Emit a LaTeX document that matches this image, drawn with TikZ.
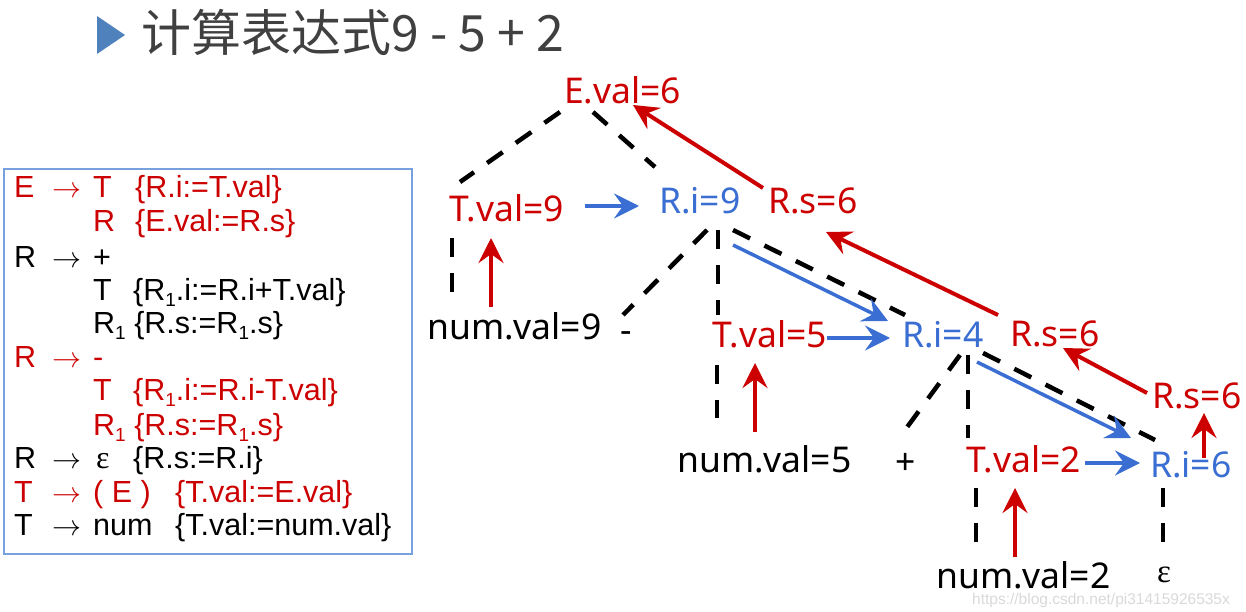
\documentclass[tikz,border=0pt]{standalone}
\usepackage{fontspec}
\setmainfont{Liberation Sans}
\newfontfamily\treefont{Noto Sans}
\newfontfamily\cjkfont{Noto Sans CJK SC}
\newfontfamily\epsfont{Liberation Serif}
\usetikzlibrary{arrows.meta}
\definecolor{myred}{RGB}{204,0,0}
\definecolor{myblue}{RGB}{58,110,210}
\definecolor{boxblue}{RGB}{120,160,220}
\definecolor{titlegray}{RGB}{64,64,64}
\definecolor{trifill}{RGB}{79,129,189}
\newcommand\rsub[1]{\raisebox{-0.22em}{\fontsize{19}{19}\selectfont #1}}
\newcommand\rarr{\resizebox{29pt}{!}{$\rightarrow$}}
\begin{document}
\begin{tikzpicture}[x=1pt,y=-1pt,
  tv/.style={font=\treefont\fontsize{35.5}{40}\selectfont, anchor=base west, inner sep=0},
  rl/.style={font=\fontsize{30.5}{34}\selectfont, anchor=base west, inner sep=0},
  dl/.style={line width=4.5pt, dash pattern=on 19pt off 16pt, black},
  ra/.style={myred, line width=4pt, -{Stealth[length=25pt,width=25pt,inset=9pt]}},
  ba/.style={myblue, line width=3.5pt, -{Stealth[length=25pt,width=25pt,inset=9pt]}}]
\useasboundingbox (0,0) rectangle (1246,612);

% title
\fill[trifill] (97,16) -- (97,54) -- (125,35) -- cycle;
\node[anchor=base west, inner sep=0, text=titlegray, font=\cjkfont\fontsize{50}{54}\selectfont] (title) at (141,52) {计算表达式9 - 5 + 2};

% rule box
\node[draw=boxblue, line width=2pt, minimum width=408pt, minimum height=385pt, anchor=north west, inner sep=0] (box) at (3,168) {};

\begin{scope}[every node/.style={rl}]
\node[text=myred] (r1a) at (14,198) {E};
\node[text=myred] (r1b) at (52,198) {\rarr};
\node[text=myred] (r1c) at (93,198) {T};
\node[text=myred] (r1d) at (135,198) {\{R.i:=T.val\}};
\node[text=myred] (r2c) at (93,232) {R};
\node[text=myred] (r2d) at (135,232) {\{E.val:=R.s\}};
\node (r3a) at (14,267) {R};
\node (r3b) at (52,267) {\rarr};
\node (r3c) at (93,267) {+};
\node (r4c) at (93,300) {T};
\node (r4d) at (133,300) {\{R\rsub{1}.i:=R.i+T.val\}};
\node (r5c) at (93,333) {R\rsub{1} \{R.s:=R\rsub{1}.s\}};
\node[text=myred] (r6a) at (14,367) {R};
\node[text=myred] (r6b) at (52,367) {\rarr};
\node[text=myred] (r6c) at (93,367) {-};
\node[text=myred] (r7c) at (93,400) {T};
\node[text=myred] (r7d) at (133,400) {\{R\rsub{1}.i:=R.i-T.val\}};
\node[text=myred] (r8c) at (93,435) {R\rsub{1} \{R.s:=R\rsub{1}.s\}};
\node (r9a) at (14,468) {R};
\node (r9b) at (52,468) {\rarr};
\node[font=\epsfont\fontsize{32}{34}\selectfont] (r9c) at (96,468) {ε};
\node (r9d) at (133,468) {\{R.s:=R.i\}};
\node[text=myred] (r10a) at (14,502) {T};
\node[text=myred] (r10b) at (52,502) {\rarr};
\node[text=myred] (r10c) at (93,502) {( E )};
\node[text=myred] (r10d) at (175,502) {\{T.val:=E.val\}};
\node (r11a) at (14,535) {T};
\node (r11b) at (52,535) {\rarr};
\node (r11c) at (93,535) {num};
\node (r11d) at (175,535) {\{T.val:=num.val\}};
\end{scope}

% tree nodes
\node[tv, text=myred] (E) at (564,104) {E.val=6};
\node[tv, text=myred] (T9) at (449,222) {T.val=9};
\node[tv, text=myblue] (R9) at (659,214) {R.i=9};
\node[tv, text=myred] (Rs1) at (768,214) {R.s=6};
\node[tv] (n9) at (427,339) {num.val=9};
\node[tv] (minus) at (620,342) {-};
\node[tv, text=myred] (T5) at (712,347) {T.val=5};
\node[tv, text=myblue] (R4) at (902,347) {R.i=4};
\node[tv, text=myred] (Rs2) at (1010,346) {R.s=6};
\node[tv] (n5) at (677,472) {num.val=5};
\node[tv] (plus) at (895,474) {+};
\node[tv, text=myred] (T2) at (966,472) {T.val=2};
\node[tv, text=myblue] (R6) at (1150,477) {R.i=6};
\node[tv, text=myred] (Rs3) at (1152,408) {R.s=6};
\node[tv] (n2) at (936,588) {num.val=2};
\node[anchor=base west, inner sep=0, font=\epsfont\fontsize{33}{36}\selectfont] (eps) at (1157,582) {ε};

% connector end points
\coordinate (E-l) at (560,112);   \coordinate (T9-t) at (460,182);
\coordinate (E-r) at (593,112);   \coordinate (R9-t) at (655,167);
\coordinate (T9-b) at (452,238);  \coordinate (n9-t) at (452,293);
\coordinate (R9-b1) at (707,230); \coordinate (minus-t) at (623,315);
\coordinate (R9-b2) at (718,230); \coordinate (T5-t) at (718,315);
\coordinate (R9-b3) at (733,230); \coordinate (R4-t) at (905,315);
\coordinate (T5-b) at (717,365);  \coordinate (n5-t) at (717,418);
\coordinate (R4-b1) at (960,355); \coordinate (plus-t) at (905,430);
\coordinate (R4-b2) at (968,355); \coordinate (T2-t) at (968,438);
\coordinate (R4-b3) at (983,353); \coordinate (R6-t) at (1155,440);
\coordinate (T2-b) at (976,488);  \coordinate (n2-t) at (976,543);
\coordinate (R6-b) at (1163,488); \coordinate (eps-t) at (1163,543);

% dashed tree edges
\draw[dl] (E-l) -- (T9-t);
\draw[dl] (E-r) -- (R9-t);
\draw[dl] (T9-b) -- (n9-t);
\draw[dl] (R9-b1) -- (minus-t);
\draw[dl] (R9-b2) -- (T5-t);
\draw[dl] (R9-b3) -- (R4-t);
\draw[dl] (T5-b) -- (n5-t);
\draw[dl] (R4-b1) -- (plus-t);
\draw[dl] (R4-b2) -- (T2-t);
\draw[dl] (R4-b3) -- (R6-t);
\draw[dl] (T2-b) -- (n2-t);
\draw[dl] (R6-b) -- (eps-t);

% red (synthesized) arrows
\coordinate (n9-a) at (491,307); \coordinate (T9-a) at (491,238);
\coordinate (n5-a) at (755,432); \coordinate (T5-a) at (755,363);
\coordinate (n2-a) at (1015,557); \coordinate (T2-a) at (1015,488);
\coordinate (R6-a) at (1204,458); \coordinate (Rs3-a) at (1204,413);
\coordinate (Rs3-b) at (1147,393); \coordinate (Rs2-a) at (1063,348);
\coordinate (Rs2-b) at (998,315); \coordinate (Rs1-a) at (826,232);
\coordinate (Rs1-b) at (763,188); \coordinate (E-a) at (633,105);
\draw[ra] (n9-a) -- (T9-a);
\draw[ra] (n5-a) -- (T5-a);
\draw[ra] (n2-a) -- (T2-a);
\draw[ra] (R6-a) -- (Rs3-a);
\draw[ra] (Rs3-b) -- (Rs2-a);
\draw[ra] (Rs2-b) -- (Rs1-a);
\draw[ra] (Rs1-b) -- (E-a);

% blue (inherited) arrows
\coordinate (T9-r) at (585,206); \coordinate (R9-l) at (639,206);
\coordinate (T5-r) at (827,338); \coordinate (R4-l) at (890,338);
\coordinate (T2-r) at (1085,463); \coordinate (R6-l) at (1140,463);
\coordinate (R9-c) at (733,245); \coordinate (R4-c) at (888,321);
\coordinate (R4-d) at (977,362); \coordinate (R6-c) at (1131,438);
\draw[ba] (T9-r) -- (R9-l);
\draw[ba] (T5-r) -- (R4-l);
\draw[ba] (T2-r) -- (R6-l);
\draw[ba] (R9-c) -- (R4-c);
\draw[ba] (R4-d) -- (R6-c);

% watermark
\node[anchor=base west, inner sep=0, text=gray!30, font=\fontsize{15.5}{18}\selectfont] (wm) at (972,604) {https://blog.csdn.net/pi31415926535x};
\end{tikzpicture}
\end{document}
